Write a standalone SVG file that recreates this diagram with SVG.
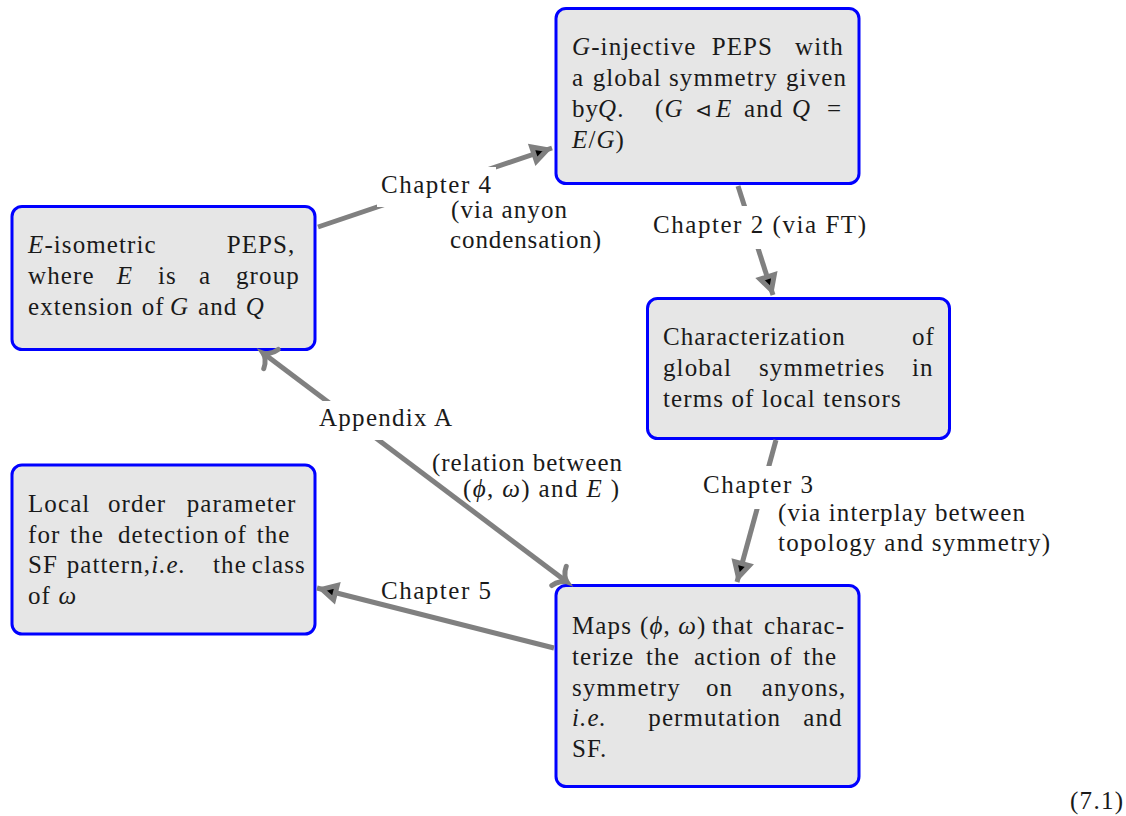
<svg xmlns="http://www.w3.org/2000/svg" width="1126" height="816" viewBox="0 0 1126 816" font-family="Liberation Serif, serif">
<defs>
  <marker id="latex" markerUnits="userSpaceOnUse" viewBox="-30 -20 40 40" refX="0" refY="0" markerWidth="40" markerHeight="40" orient="auto" overflow="visible">
    <path d="M-5,0 L-19,-7.5 L-19,7.5 Z" fill="#000000" stroke="#808080" stroke-width="5" stroke-linejoin="miter"/>
  </marker>
  <marker id="to" markerUnits="userSpaceOnUse" viewBox="-30 -20 40 40" refX="0" refY="0" markerWidth="40" markerHeight="40" orient="auto-start-reverse" overflow="visible">
    <path d="M-10,-12 C-8,-5 -3,-1 0,0 C-3,1 -8,5 -10,12" fill="none" stroke="#808080" stroke-width="5" stroke-linecap="round"/>
  </marker>
</defs>

<g id="node-top" fill="#1a1a1a" font-family="Liberation Serif, serif" font-size="25" letter-spacing="1.1">
  <rect x="556" y="8.5" width="303" height="175" rx="10" fill="#e6e6e6" stroke="#0000ff" stroke-width="3"/>
  <text y="55"><tspan x="572"><tspan font-style="italic">G</tspan>-injective</tspan><tspan x="711.7">PEPS</tspan><tspan x="795">with</tspan></text>
  <text y="86"><tspan x="572">a</tspan><tspan x="592.7">global</tspan><tspan x="669">symmetry</tspan><tspan x="786">given</tspan></text>
  <text y="117"><tspan x="572">by</tspan><tspan x="598"><tspan font-style="italic">Q</tspan>.</tspan><tspan x="655">(<tspan font-style="italic">G</tspan></tspan><tspan x="695" font-size="20">&#x22B2;</tspan><tspan x="716" font-style="italic">E</tspan><tspan x="744">and</tspan><tspan x="792" font-style="italic">Q</tspan><tspan x="827">=</tspan></text>
  <text y="148"><tspan x="572"><tspan font-style="italic">E</tspan>/<tspan font-style="italic">G</tspan>)</tspan></text>
</g>

<g id="node-left" fill="#1a1a1a" font-family="Liberation Serif, serif" font-size="25" letter-spacing="1.1">
  <rect x="12" y="206.5" width="303" height="143" rx="10" fill="#e6e6e6" stroke="#0000ff" stroke-width="3"/>
  <text y="253"><tspan x="28"><tspan font-style="italic">E</tspan>-isometric</tspan><tspan x="226.7">PEPS,</tspan></text>
  <text y="284"><tspan x="28">where</tspan><tspan x="116.7" font-style="italic">E</tspan><tspan x="158">is</tspan><tspan x="199">a</tspan><tspan x="236">group</tspan></text>
  <text y="315"><tspan x="28">extension</tspan><tspan x="141.7">of</tspan><tspan x="170" font-style="italic">G</tspan><tspan x="198">and</tspan><tspan x="245.7" font-style="italic">Q</tspan></text>
</g>

<g id="node-right" fill="#1a1a1a" font-family="Liberation Serif, serif" font-size="25" letter-spacing="1.1">
  <rect x="647.5" y="298.5" width="302" height="140" rx="10" fill="#e6e6e6" stroke="#0000ff" stroke-width="3"/>
  <text y="345"><tspan x="663">Characterization</tspan><tspan x="912">of</tspan></text>
  <text y="376"><tspan x="663">global</tspan><tspan x="759">symmetries</tspan><tspan x="912">in</tspan></text>
  <text y="407"><tspan x="663">terms of local tensors</tspan></text>
</g>

<g id="node-bottomleft" fill="#1a1a1a" font-family="Liberation Serif, serif" font-size="25" letter-spacing="1.1">
  <rect x="12" y="465" width="303" height="169" rx="10" fill="#e6e6e6" stroke="#0000ff" stroke-width="3"/>
  <text y="512"><tspan x="28">Local</tspan><tspan x="108">order</tspan><tspan x="186.7">parameter</tspan></text>
  <text y="543"><tspan x="28">for</tspan><tspan x="70">the</tspan><tspan x="118">detection</tspan><tspan x="224">of</tspan><tspan x="256.7">the</tspan></text>
  <text y="573"><tspan x="28">SF</tspan><tspan x="66.7">pattern,<tspan font-style="italic">i.e.</tspan></tspan><tspan x="213">the</tspan><tspan x="251.7">class</tspan></text>
  <text y="604"><tspan x="28">of <tspan font-style="italic">&#x3C9;</tspan></tspan></text>
</g>

<g id="node-bottomright" fill="#1a1a1a" font-family="Liberation Serif, serif" font-size="25" letter-spacing="1.1">
  <rect x="556" y="585.5" width="303" height="201" rx="10" fill="#e6e6e6" stroke="#0000ff" stroke-width="3"/>
  <text y="634"><tspan x="572">Maps</tspan><tspan x="640">(<tspan font-style="italic">&#x3D5;</tspan>, <tspan font-style="italic">&#x3C9;</tspan>)</tspan><tspan x="712">that</tspan><tspan x="764">charac-</tspan></text>
  <text y="665"><tspan x="572">terize</tspan><tspan x="646">the</tspan><tspan x="694">action</tspan><tspan x="770">of</tspan><tspan x="803.3">the</tspan></text>
  <text y="695.5"><tspan x="572">symmetry</tspan><tspan x="706">on</tspan><tspan x="761.7">anyons,</tspan></text>
  <text y="726"><tspan x="572" font-style="italic">i.e.</tspan><tspan x="648.3">permutation</tspan><tspan x="803.3">and</tspan></text>
  <text y="757"><tspan x="572">SF.</tspan></text>
</g>

<g id="connectors">
  <g fill="none" stroke="#808080" stroke-width="5">
    <line x1="318" y1="227" x2="552" y2="148" marker-end="url(#latex)"/>
    <line x1="738" y1="186" x2="773" y2="295" marker-end="url(#latex)"/>
    <line x1="776" y1="440" x2="737" y2="582" marker-end="url(#latex)"/>
    <line x1="554" y1="648" x2="317" y2="588" marker-end="url(#latex)"/>
    <line x1="263" y1="353" x2="567" y2="582" marker-start="url(#to)" marker-end="url(#to)"/>
  </g>
  <g fill="#ffffff">
    <rect x="377" y="167" width="119" height="40"/>
    <rect x="648" y="206" width="223" height="43"/>
    <rect x="313" y="401" width="145" height="39"/>
    <rect x="698" y="466" width="120" height="43"/>
  </g>
  <g fill="#1a1a1a" font-family="Liberation Serif, serif" font-size="25">
    <text x="381" y="193" textLength="110" lengthAdjust="spacing">Chapter 4</text>
    <text x="451" y="218" textLength="116" lengthAdjust="spacing">(via anyon</text>
    <text x="450" y="248" textLength="151" lengthAdjust="spacing">condensation)</text>
    <text x="653" y="233" textLength="213" lengthAdjust="spacing">Chapter 2 (via FT)</text>
    <text x="319" y="426" textLength="133" lengthAdjust="spacing">Appendix A</text>
    <text x="432" y="471" textLength="190" lengthAdjust="spacing">(relation between</text>
    <text x="463" y="497" textLength="156" lengthAdjust="spacing">(<tspan font-style="italic">&#x3D5;</tspan>, <tspan font-style="italic">&#x3C9;</tspan>) and <tspan font-style="italic">E</tspan> )</text>
    <text x="703" y="493" textLength="110" lengthAdjust="spacing">Chapter 3</text>
    <text x="778" y="521" textLength="247" lengthAdjust="spacing">(via interplay between</text>
    <text x="778" y="551" textLength="272" lengthAdjust="spacing">topology and symmetry)</text>
    <text x="381" y="599" textLength="110" lengthAdjust="spacing">Chapter 5</text>
  </g>
</g>

<text fill="#1a1a1a" font-family="Liberation Serif, serif" font-size="25" x="1070" y="809" textLength="53" lengthAdjust="spacing">(7.1)</text>
</svg>
